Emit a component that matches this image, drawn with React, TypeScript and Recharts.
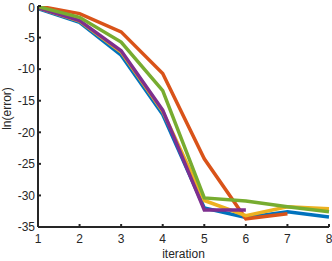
import { Label, Line, LineChart, XAxis, YAxis } from 'recharts'

const iterations = [1, 2, 3, 4, 5, 6, 7, 8]
const blue = [-0.4, -2.6, -7.8, -17.2, -32.0, -33.5, -32.6, -33.4]
const orange = [0, -1.2, -4.1, -10.7, -24.2, -33.7, -32.9]
const yellow = [-0.3, -2.4, -7.3, -16.7, -30.8, -33.2, -31.8, -32.1]
const purple = [-0.3, -2.3, -7.1, -16.5, -32.3, -32.3]
const green = [-0.1, -1.8, -5.7, -13.4, -30.4, -30.9, -31.8, -32.6]
const yTicks = [-35, -30, -25, -20, -15, -10, -5, 0]

const data = iterations.map((it, i) => ({
  it,
  blue: blue[i],
  orange: orange[i],
  yellow: yellow[i],
  purple: purple[i],
  green: green[i],
}))

const series = [
  { key: 'blue', color: '#0072BD' },
  { key: 'orange', color: '#D95319' },
  { key: 'yellow', color: '#EDB120' },
  { key: 'purple', color: '#7E2F8E' },
  { key: 'green', color: '#77AC30' },
]

const ink = '#262626'
const font = { fontFamily: '"Liberation Sans", Arial, sans-serif', fontSize: 12, fill: ink }

export default function App() {
  return (
    <div style={{ position: 'absolute', left: 0, top: 0, background: '#fff' }}>
      <LineChart width={332} height={261} data={data} margin={{ top: 6, right: 3, left: 0, bottom: 0 }}>
        <XAxis
          dataKey="it"
          type="number"
          domain={[1, 8]}
          ticks={iterations}
          height={34}
          stroke={ink}
          strokeWidth={2}
          tickSize={-3}
          tickMargin={10}
          tick={font}
        >
          <Label value="iteration" position="insideBottom" offset={3} style={font} />
        </XAxis>
        <YAxis
          type="number"
          domain={[-35, 0]}
          ticks={yTicks}
          width={38}
          stroke={ink}
          strokeWidth={2}
          tickSize={-3}
          tickMargin={6}
          tick={font}
          allowDataOverflow
        >
          <Label value="ln(error)" angle={-90} position="insideLeft" offset={7} dy={-8} style={{ ...font, textAnchor: 'middle' }} />
        </YAxis>
        {series.map((s) => (
          <Line
            key={s.key}
            dataKey={s.key}
            stroke={s.color}
            strokeWidth={3.5}
            dot={false}
            activeDot={false}
            isAnimationActive={false}
            type="linear"
          />
        ))}
      </LineChart>
    </div>
  )
}
